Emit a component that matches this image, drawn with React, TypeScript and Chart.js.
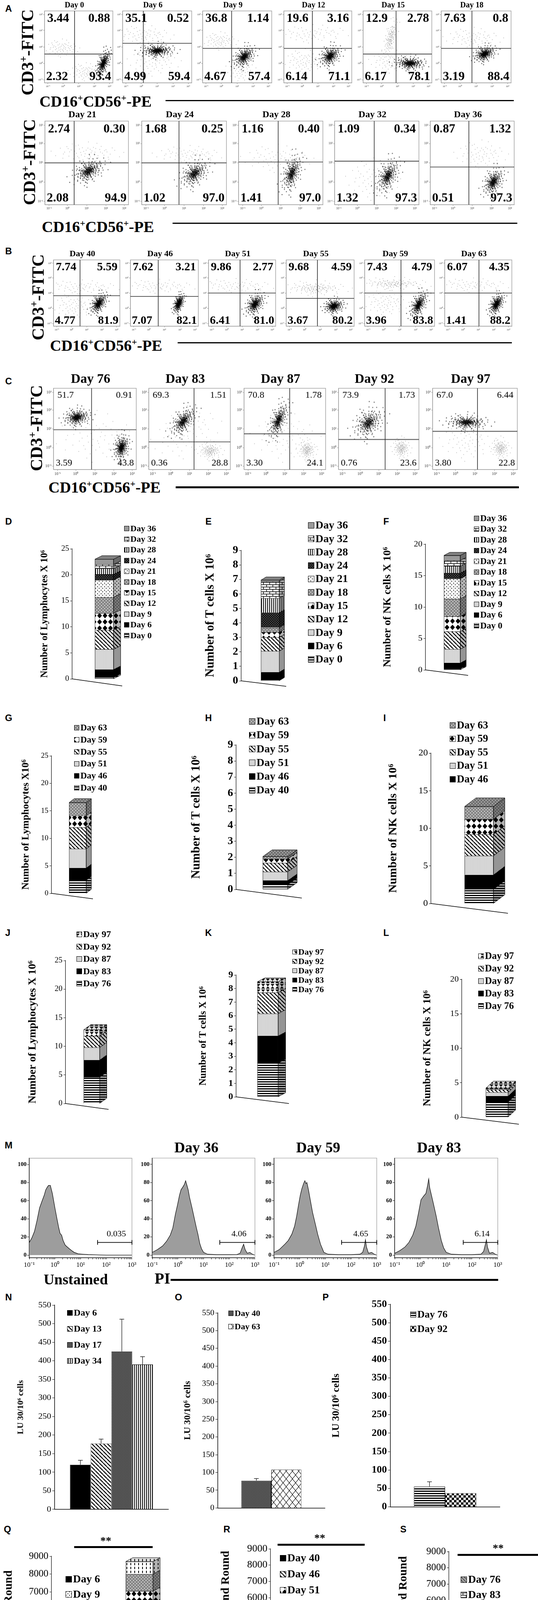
import { useEffect, useRef } from 'react';
import { Chart, registerables } from 'chart.js';

Chart.register(...registerables);

const SERIF = "'Liberation Serif', 'Times New Roman', serif";
const SANS = "'Liberation Sans', Arial, sans-serif";
Chart.defaults.font.family = SERIF;

// ---------- flow cytometry (A, B, C) ----------
const daysA1 = ['Day 0', 'Day 6', 'Day 9', 'Day 12', 'Day 15', 'Day 18'];
const quadsA1 = [
  ['3.44', '0.88', '2.32', '93.4'],
  ['35.1', '0.52', '4.99', '59.4'],
  ['36.8', '1.14', '4.67', '57.4'],
  ['19.6', '3.16', '6.14', '71.1'],
  ['12.9', '2.78', '6.17', '78.1'],
  ['7.63', '0.8', '3.19', '88.4'],
];
const gatesA1 = [[0.44, 0.4], [0.3, 0.55], [0.42, 0.48], [0.42, 0.48], [0.48, 0.4], [0.44, 0.48]];
// clusters: [cx, cy, sx, sy, tilt, density]
const clustersA1 = [
  [[0.86, 0.27, 0.07, 0.1, 0.8, 3], [0.25, 0.48, 0.12, 0.06, 0, 1], [0.6, 0.15, 0.12, 0.06, 0, 1]],
  [[0.5, 0.445, 0.15, 0.06, 0.1, 3], [0.45, 0.3, 0.18, 0.1, 0, 1], [0.3, 0.66, 0.2, 0.07, 0, 1]],
  [[0.6, 0.36, 0.1, 0.09, 0.5, 3], [0.25, 0.58, 0.12, 0.06, 0, 1], [0.55, 0.2, 0.1, 0.1, 0, 1]],
  [[0.68, 0.37, 0.1, 0.09, 0.4, 3], [0.4, 0.68, 0.28, 0.06, 0.2, 1], [0.3, 0.3, 0.15, 0.08, 0, 1]],
  [[0.68, 0.27, 0.14, 0.06, 0, 3], [0.4, 0.62, 0.06, 0.12, 0.8, 2], [0.4, 0.3, 0.15, 0.08, 0, 1]],
  [[0.62, 0.4, 0.1, 0.07, 0.4, 3], [0.45, 0.62, 0.2, 0.07, 0, 1]],
];

const daysA2 = ['Day 21', 'Day 24', 'Day 28', 'Day 32', 'Day 36'];
const quadsA2 = [
  ['2.74', '0.30', '2.08', '94.9'],
  ['1.68', '0.25', '1.02', '97.0'],
  ['1.16', '0.40', '1.41', '97.0'],
  ['1.09', '0.34', '1.32', '97.3'],
  ['0.87', '1.32', '0.51', '97.3'],
];
const gatesA2 = [[0.35, 0.5], [0.44, 0.5], [0.47, 0.51], [0.47, 0.52], [0.46, 0.45]];
const clustersA2 = [
  [[0.52, 0.4, 0.12, 0.09, 0.5, 3], [0.5, 0.62, 0.2, 0.06, 0, 1]],
  [[0.62, 0.37, 0.11, 0.1, 0.5, 3], [0.55, 0.6, 0.2, 0.05, 0, 1]],
  [[0.63, 0.37, 0.08, 0.13, 0.6, 3], [0.45, 0.55, 0.2, 0.08, 0, 1]],
  [[0.63, 0.34, 0.09, 0.12, 0.6, 3], [0.45, 0.3, 0.15, 0.12, 0, 1]],
  [[0.75, 0.27, 0.08, 0.1, 0.5, 3], [0.6, 0.6, 0.15, 0.08, 0, 1]],
];

const daysB = ['Day 40', 'Day 46', 'Day 51', 'Day 55', 'Day 59', 'Day 63'];
const quadsB = [
  ['7.74', '5.59', '4.77', '81.9'],
  ['7.62', '3.21', '7.07', '82.1'],
  ['9.86', '2.77', '6.41', '81.0'],
  ['9.68', '4.59', '3.67', '80.2'],
  ['7.43', '4.79', '3.96', '83.8'],
  ['6.07', '4.35', '1.41', '88.2'],
];
const gatesB = [[0.4, 0.46], [0.41, 0.45], [0.47, 0.5], [0.46, 0.42], [0.52, 0.5], [0.51, 0.5]];
const clustersB = [
  [[0.68, 0.34, 0.08, 0.09, 0.6, 3], [0.4, 0.59, 0.3, 0.05, 0, 1], [0.3, 0.3, 0.15, 0.1, 0, 1]],
  [[0.71, 0.34, 0.05, 0.08, 0.6, 3], [0.4, 0.6, 0.28, 0.05, 0, 1]],
  [[0.69, 0.33, 0.09, 0.1, 0.5, 3], [0.38, 0.61, 0.3, 0.05, 0, 1]],
  [[0.7, 0.3, 0.09, 0.07, 0.2, 3], [0.42, 0.57, 0.25, 0.06, 0, 2]],
  [[0.77, 0.32, 0.08, 0.11, 0.7, 3], [0.4, 0.64, 0.28, 0.05, 0, 2], [0.3, 0.35, 0.15, 0.1, 0, 1]],
  [[0.77, 0.33, 0.07, 0.09, 0.6, 3], [0.4, 0.62, 0.28, 0.05, 0, 1]],
];

const daysC = ['Day 76', 'Day 83', 'Day 87', 'Day 92', 'Day 97'];
const quadsC = [
  ['51.7', '0.91', '3.59', '43.8'],
  ['69.3', '1.51', '0.36', '28.8'],
  ['70.8', '1.78', '3.30', '24.1'],
  ['73.9', '1.73', '0.76', '23.6'],
  ['67.0', '6.44', '3.80', '22.8'],
];
const gatesC = [[0.46, 0.49], [0.555, 0.34], [0.56, 0.44], [0.58, 0.37], [0.53, 0.47]];
const clustersC = [
  [[0.28, 0.64, 0.1, 0.07, 0.2, 3], [0.82, 0.27, 0.06, 0.1, 0.3, 3], [0.5, 0.4, 0.25, 0.15, 0, 1]],
  [[0.42, 0.59, 0.1, 0.1, 0.7, 3], [0.75, 0.23, 0.08, 0.06, 0, 2], [0.45, 0.45, 0.2, 0.15, 0.4, 1]],
  [[0.42, 0.6, 0.08, 0.12, 0.8, 3], [0.77, 0.24, 0.06, 0.07, 0, 2], [0.5, 0.4, 0.2, 0.15, 0, 1]],
  [[0.37, 0.57, 0.12, 0.12, 0.4, 3], [0.78, 0.26, 0.06, 0.07, 0, 2]],
  [[0.4, 0.58, 0.15, 0.06, 0, 3], [0.8, 0.26, 0.06, 0.07, 0, 2], [0.4, 0.35, 0.15, 0.12, 0, 1]],
];

// hand-typed event offsets reused for every cloud
const cloud = [
  [0.12, -0.35], [-0.48, 0.22], [0.77, 0.41], [-0.15, -0.92], [0.33, 0.08], [-0.71, -0.44], [0.05, 0.63], [0.94, -0.18],
  [-0.29, 0.51], [0.46, -0.67], [-0.88, 0.09], [0.21, 0.27], [-0.06, -0.13], [0.58, 0.85], [-0.52, -0.79], [1.12, 0.33],
  [-1.05, 0.61], [0.38, -1.08], [-0.33, 1.02], [0.69, -0.31], [-0.62, 0.38], [0.15, -0.55], [-0.21, -0.28], [0.81, 0.12],
  [-0.93, -0.15], [0.27, 0.72], [-0.41, -0.06], [0.52, 0.44], [-0.12, 0.19], [0.03, -0.71], [1.31, -0.52], [-1.24, -0.37],
  [0.41, 1.27], [-0.57, 1.18], [0.88, -0.87], [-0.79, 0.83], [0.18, 0.02], [-0.02, 0.36], [0.63, -0.05], [-0.36, -0.47],
  [0.09, -0.21], [-0.17, 0.68], [0.45, -0.38], [-0.68, 0.14], [1.02, 0.66], [-0.95, -0.71], [0.26, -0.88], [-0.44, 0.91],
  [0.71, 0.29], [-0.26, -1.15], [1.48, 0.05], [-1.42, 0.22], [0.07, 1.45], [-0.09, -1.38], [0.55, 0.11], [-0.5, -0.22],
  [0.31, -0.16], [-0.24, 0.05], [0.14, 0.47], [-0.08, -0.46], [0.86, -0.58], [-0.74, 0.56], [0.36, 0.58], [-0.31, -0.66],
];
const powLabels = ['10⁻¹', '10⁰', '10¹', '10²', '10³'];

// ---------- cell expansion (D to L) ----------
const daysFirst = ['Day 0', 'Day 6', 'Day 9', 'Day 12', 'Day 15', 'Day 18', 'Day 21', 'Day 24', 'Day 28', 'Day 32', 'Day 36'];
const lymphFirst = [0.3, 1.5, 3.9, 3.7, 3.2, 3.1, 3.3, 1.1, 1.1, 0.8, 1.0];
const tFirst = [0.05, 0.55, 1.45, 0.95, 0.35, 0.3, 0.05, 1.0, 1.0, 1.15, 0.1];
const nkFirst = [0.2, 0.9, 2.2, 2.8, 2.4, 2.8, 3.2, 0.9, 1.1, 0.9, 0.8];
const daysSecond = ['Day 40', 'Day 46', 'Day 51', 'Day 55', 'Day 59', 'Day 63'];
const lymphSecond = [2.4, 2.2, 3.5, 3.9, 2.1, 2.4];
const tSecond = [0.3, 0.25, 0.55, 0.55, 0.25, 0.15];
const nkSecond = [1.9, 1.9, 2.55, 2.85, 2.0, 1.7];
const daysThird = ['Day 76', 'Day 83', 'Day 87', 'Day 92', 'Day 97'];
const lymphThird = [4.6, 3.0, 2.2, 2.0, 1.1];
const tThird = [2.5, 2.0, 1.65, 1.55, 0.8];
const nkThird = [2.2, 0.85, 0.55, 0.4, 0.2];

// ---------- PI histograms (M) ----------
const histUnstained = [[-1, 14], [-0.9, 19], [-0.8, 26], [-0.7, 38], [-0.6, 52], [-0.5, 60], [-0.42, 66], [-0.36, 72], [-0.3, 75], [-0.25, 77], [-0.18, 77], [-0.1, 68], [0, 52], [0.08, 40], [0.15, 30], [0.2, 24], [0.26, 22], [0.32, 16], [0.4, 11], [0.48, 9], [0.56, 7], [0.65, 5], [0.75, 3], [0.9, 1.5], [1.1, 1], [1.3, 0.6], [1.6, 0.3], [2, 0], [3, 0]];
const histDay36 = [[-1, 3], [-0.8, 6], [-0.6, 10], [-0.45, 15], [-0.3, 22], [-0.2, 30], [-0.1, 45], [-0.02, 55], [0.06, 66], [0.12, 72], [0.19, 75], [0.25, 78], [0.3, 82], [0.35, 77], [0.4, 72], [0.45, 64], [0.55, 52], [0.65, 39], [0.72, 30], [0.78, 23], [0.85, 13], [0.92, 7], [1, 3], [1.15, 1], [1.5, 0.5], [2, 0.5], [2.3, 0.6], [2.42, 2], [2.5, 8], [2.56, 12], [2.62, 6], [2.7, 2], [2.8, 3], [2.9, 1], [3, 0]];
const histDay59 = [[-1, 3], [-0.8, 6], [-0.58, 12], [-0.45, 16], [-0.31, 23], [-0.2, 32], [-0.12, 43], [-0.05, 55], [0.02, 66], [0.08, 73], [0.15, 79], [0.2, 82], [0.24, 79], [0.28, 80], [0.34, 72], [0.41, 61], [0.5, 47], [0.61, 34], [0.7, 23], [0.81, 12], [0.94, 3], [1.1, 1], [1.5, 0.5], [2, 0.5], [2.35, 1], [2.45, 3], [2.52, 10], [2.56, 17], [2.6, 9], [2.68, 2], [2.8, 3], [2.9, 1], [3, 0]];
const histDay83 = [[-1, 2], [-0.8, 5], [-0.6, 9], [-0.45, 14], [-0.3, 22], [-0.18, 32], [-0.08, 46], [0.02, 61], [0.12, 65], [0.21, 68], [0.27, 76], [0.32, 84], [0.36, 74], [0.41, 68], [0.5, 57], [0.61, 43], [0.7, 30], [0.81, 16], [0.9, 8], [1, 3], [1.2, 1], [1.6, 0.5], [2, 0.5], [2.35, 1], [2.45, 4], [2.52, 12], [2.56, 17], [2.6, 9], [2.68, 2], [2.8, 3], [2.9, 1], [3, 0]];
const histTitles = ['', 'Day 36', 'Day 59', 'Day 83'];
const histGateLabels = ['0.035', '4.06', '4.65', '6.14'];
const histGateStart = [1.66, 1.63, 1.63, 1.66];

// ---------- cytotoxicity (N, O, P) ----------
const luDaysN = ['Day 6', 'Day 13', 'Day 17', 'Day 34'];
const luN = [120, 177, 425, 390];
const luErrN = [12, 12, 87, 21];
const luDaysO = ['Day 40', 'Day 63'];
const luO = [77, 108];
const luErrO = [6, 0];
const luDaysP = ['Day 76', 'Day 92'];
const luP = [55, 37];
const luErrP = [13, 0];

// ---------- IFN-gamma (Q, R, S) ----------
const groups = ['Control', '+OC+sAJ2'];
const ifnDaysQ = ['Day 6', 'Day 9', 'Day 12', 'day 15', 'Day 18', 'Day 21'];
const ifnCtrlQ = [60, 60, 70, 70, 70, 70];
const ifnOcQ = [1650, 2150, 1900, 1350, 950, 700];
const ifnDaysR = ['Day 40', 'Day 46', 'Day 51', 'Day 55', 'Day 59'];
const ifnCtrlR = [70, 70, 70, 70, 70];
const ifnOcR = [300, 850, 700, 550, 400];
const ifnDaysS = ['Day 76', 'Day 83', 'Day 87', 'Day 92', 'Day 97'];
const ifnCtrlS = [70, 70, 70, 70, 70];
const ifnOcS = [200, 150, 200, 150, 200];

// ---------- fill patterns ----------
const patCache: any = {};
function pat(kind: string): any {
  if (patCache[kind]) return patCache[kind];
  if (kind === 'black') return (patCache[kind] = '#000');
  const c = document.createElement('canvas');
  const g = c.getContext('2d') as CanvasRenderingContext2D;
  const sz = (w: number, h: number, bg = '#fff') => {
    c.width = w; c.height = h;
    g.fillStyle = bg; g.fillRect(0, 0, w, h);
    g.fillStyle = '#000'; g.strokeStyle = '#000';
  };
  switch (kind) {
    case 'hstripe': sz(6, 6); g.fillRect(0, 0, 6, 3); break;
    case 'vstripe': sz(5, 5); g.fillRect(0, 0, 2, 5); break;
    case 'finedots': sz(3, 3); g.fillStyle = '#444'; g.fillRect(0, 0, 1, 1); g.fillRect(1, 2, 1, 1); break;
    case 'diag':
      sz(10, 10); g.lineWidth = 2.4; g.beginPath();
      for (const o of [-10, 0, 10]) { g.moveTo(o, 0); g.lineTo(o + 10, 10); }
      g.stroke(); break;
    case 'graydiag':
      sz(8, 8, '#a5a5a5'); g.strokeStyle = '#333'; g.lineWidth = 1.5; g.beginPath();
      for (const o of [-8, 0, 8]) { g.moveTo(o, 0); g.lineTo(o + 8, 8); }
      g.stroke(); break;
    case 'diamond':
      sz(14, 16); g.beginPath(); g.moveTo(7, 1); g.lineTo(13, 8); g.lineTo(7, 15); g.lineTo(1, 8); g.closePath(); g.fill(); break;
    case 'hourglass':
      sz(12, 14); g.beginPath(); g.moveTo(1, 1); g.lineTo(11, 1); g.lineTo(6, 7); g.closePath(); g.fill();
      g.beginPath(); g.moveTo(6, 7); g.lineTo(11, 13); g.lineTo(1, 13); g.closePath(); g.fill(); break;
    case 'graydots': sz(8, 8, '#8a8a8a'); g.fillStyle = '#fff'; g.fillRect(1, 1, 2, 2); g.fillRect(5, 5, 2, 2); break;
    case 'whitedots': sz(9, 9); g.fillRect(2, 2, 2, 2); g.fillRect(6, 6, 2, 2); break;
    case 'darkcheck': sz(6, 6, '#1c1c1c'); g.fillStyle = '#fff'; g.fillRect(1, 1, 1, 1); g.fillRect(4, 4, 1, 1); break;
    case 'brick':
      sz(16, 12); g.fillRect(0, 0, 16, 1.5); g.fillRect(0, 6, 16, 1.5); g.fillRect(0, 0, 1.5, 6); g.fillRect(8, 6, 1.5, 6); break;
    case 'graymesh': sz(4, 4, '#8f8f8f'); g.fillStyle = '#e0e0e0'; g.fillRect(0, 0, 1, 1); g.fillRect(2, 2, 1, 1); break;
    case 'densedots': sz(4, 4, '#3a3a3a'); g.fillStyle = '#fff'; g.fillRect(1, 1, 1, 1); g.fillRect(3, 3, 1, 1); break;
    case 'lattice':
      sz(16, 20); g.lineWidth = 1.2; g.beginPath(); g.moveTo(0, 10); g.lineTo(8, 0); g.lineTo(16, 10); g.lineTo(8, 20); g.closePath(); g.stroke(); break;
    case 'checker': sz(12, 12); g.fillRect(0, 0, 6, 6); g.fillRect(6, 6, 6, 6); break;
    case 'zigzag': sz(12, 10); g.lineWidth = 1.6; g.beginPath(); g.moveTo(0, 3); g.lineTo(6, 7); g.lineTo(12, 3); g.stroke(); break;
    case 'vmarks': sz(10, 10); g.fillRect(4, 1, 2, 6); break;
    default: sz(4, 4, '#999');
  }
  patCache[kind] = g.createPattern(c, 'repeat');
  return patCache[kind];
}

const firstPats = ['hstripe', 'black', 'finedots', 'diag', 'diamond', 'graydots', 'whitedots', 'darkcheck', 'vstripe', 'brick', 'graymesh'];
const secondPats = ['hstripe', 'black', 'finedots', 'diag', 'diamond', 'graydots'];
const thirdPats = ['hstripe', 'black', 'finedots', 'diag', 'hourglass'];

// ---------- plugins ----------
function face(ctx: any, pts: number[][], fill: any, shade: number) {
  ctx.save();
  ctx.beginPath();
  pts.forEach(([x, y], k) => (k ? ctx.lineTo(x, y) : ctx.moveTo(x, y)));
  ctx.closePath();
  ctx.fillStyle = fill; ctx.fill();
  ctx.fillStyle = `rgba(0,0,0,${shade})`; ctx.fill();
  ctx.strokeStyle = '#000'; ctx.lineWidth = 1; ctx.stroke();
  ctx.restore();
}

const quadPlugin = {
  id: 'quad',
  afterDatasetsDraw(chart: any, _a: any, o: any) {
    if (!o || !o.quad) return;
    const { ctx, chartArea: a } = chart;
    const gx = chart.scales.x.getPixelForValue(o.gate[0]);
    const gy = chart.scales.y.getPixelForValue(o.gate[1]);
    ctx.save();
    ctx.strokeStyle = '#a3a3a3'; ctx.lineWidth = 1.5;
    ctx.strokeRect(a.left, a.top, a.width, a.height);
    ctx.strokeStyle = '#2b2b2b'; ctx.lineWidth = 1.6;
    ctx.beginPath();
    ctx.moveTo(gx, a.top); ctx.lineTo(gx, a.bottom);
    ctx.moveTo(a.left, gy); ctx.lineTo(a.right, gy);
    ctx.stroke();
    ctx.fillStyle = '#000';
    ctx.font = `${o.bold ? 'bold ' : ''}${o.fs}px ${SERIF}`;
    const m = o.inset;
    ctx.textBaseline = 'top';
    ctx.textAlign = 'left'; ctx.fillText(o.quad[0], a.left + m, a.top + m * 0.6);
    ctx.textAlign = 'right'; ctx.fillText(o.quad[1], a.right - m, a.top + m * 0.6);
    ctx.textBaseline = 'alphabetic';
    ctx.textAlign = 'left'; ctx.fillText(o.quad[2], a.left + m * 0.6, a.bottom - m);
    ctx.textAlign = 'right'; ctx.fillText(o.quad[3], a.right - m * 0.6, a.bottom - m);
    ctx.restore();
  },
};

const box3dPlugin = {
  id: 'box3d',
  afterDatasetsDraw(chart: any, _a: any, o: any) {
    if (!o || !o.dx) return;
    const { ctx } = chart;
    const tops: any[] = [];
    chart.data.datasets.forEach((ds: any, i: number) => {
      const meta = chart.getDatasetMeta(i);
      if (meta.hidden) return;
      meta.data.forEach((el: any, j: number) => {
        if (!ds.data[j]) return;
        const p = el.getProps(['x', 'y', 'base', 'width'], true);
        const l = p.x - p.width / 2, r = p.x + p.width / 2;
        const t = Math.min(p.y, p.base), b = Math.max(p.y, p.base);
        face(ctx, [[r, t], [r + o.dx, t - o.dy], [r + o.dx, b - o.dy], [r, b]], ds.backgroundColor, 0.3);
        if (!tops[j] || t < tops[j].t) tops[j] = { l, r, t, bg: ds.backgroundColor };
      });
    });
    tops.forEach((e) => e && face(ctx, [[e.l, e.t], [e.l + o.dx, e.t - o.dy], [e.r + o.dx, e.t - o.dy], [e.r, e.t]], e.bg, 0.15));
  },
};

const floorPlugin = {
  id: 'floor',
  beforeDatasetsDraw(chart: any, _a: any, o: any) {
    if (!o || !o.dx) return;
    const { ctx, chartArea: a } = chart;
    ctx.save();
    ctx.strokeStyle = '#000'; ctx.lineWidth = 1.6;
    ctx.beginPath(); ctx.moveTo(a.left, a.bottom); ctx.lineTo(a.left + o.dx, a.bottom + o.dy); ctx.stroke();
    ctx.restore();
  },
};

const keysPlugin = {
  id: 'keys',
  afterDraw(chart: any, _a: any, o: any) {
    if (!o || !o.items) return;
    const { ctx } = chart;
    ctx.save();
    ctx.font = `bold ${o.fs}px ${SERIF}`;
    ctx.textBaseline = 'middle'; ctx.textAlign = 'left';
    o.items.forEach((di: number, k: number) => {
      const ds = chart.data.datasets[di];
      const cy = o.y + k * o.dy;
      ctx.fillStyle = ds.backgroundColor;
      ctx.fillRect(o.x, cy - o.box / 2, o.box, o.box);
      ctx.strokeStyle = '#000'; ctx.lineWidth = 1;
      ctx.strokeRect(o.x + 0.5, cy - o.box / 2 + 0.5, o.box - 1, o.box - 1);
      ctx.fillStyle = '#000';
      ctx.fillText(ds.label, o.x + o.box + 3, cy + 1);
    });
    ctx.restore();
  },
};

const errPlugin = {
  id: 'errbar',
  afterDatasetsDraw(chart: any) {
    const { ctx } = chart;
    const ys = chart.scales.y;
    chart.data.datasets.forEach((ds: any, i: number) => {
      if (!ds.err) return;
      chart.getDatasetMeta(i).data.forEach((el: any, j: number) => {
        const e = ds.err[j];
        if (!e) return;
        const p = el.getProps(['x', 'y'], true);
        const ty = ys.getPixelForValue(ds.data[j] + e);
        ctx.save();
        ctx.strokeStyle = '#000'; ctx.lineWidth = 1.2;
        ctx.beginPath();
        ctx.moveTo(p.x, p.y); ctx.lineTo(p.x, ty);
        ctx.moveTo(p.x - 6, ty); ctx.lineTo(p.x + 6, ty);
        ctx.stroke();
        ctx.restore();
      });
    });
  },
};

const gatePlugin = {
  id: 'gate',
  afterDraw(chart: any, _a: any, o: any) {
    if (!o || o.x0 === undefined) return;
    const { ctx, chartArea: a } = chart;
    const xs = chart.scales.x, ys = chart.scales.y;
    const x0 = xs.getPixelForValue(o.x0), x1 = xs.getPixelForValue(o.x1), y = ys.getPixelForValue(o.y);
    ctx.save();
    ctx.strokeStyle = '#a3a3a3'; ctx.lineWidth = 1.4;
    ctx.beginPath(); ctx.moveTo(a.left, a.top); ctx.lineTo(a.right, a.top); ctx.lineTo(a.right, a.bottom); ctx.stroke();
    ctx.strokeStyle = '#000'; ctx.lineWidth = 1.8;
    ctx.beginPath();
    ctx.moveTo(x0, y); ctx.lineTo(x1, y);
    ctx.moveTo(x0, y - 6); ctx.lineTo(x0, y + 6);
    ctx.moveTo(x1, y - 6); ctx.lineTo(x1, y + 6);
    ctx.stroke();
    ctx.fillStyle = '#000'; ctx.font = `22px ${SERIF}`;
    ctx.textAlign = 'center'; ctx.textBaseline = 'alphabetic';
    ctx.fillText(o.label, (x0 + x1) / 2 + 4, y - 16);
    ctx.restore();
  },
};

Chart.register(quadPlugin, box3dPlugin, floorPlugin, keysPlugin, errPlugin, gatePlugin);

// ---------- generic canvas ----------
function Plot({ x, y, w, h, make }: { x: number; y: number; w: number; h: number; make: () => any }) {
  const ref = useRef<HTMLCanvasElement>(null);
  useEffect(() => {
    if (!ref.current) return;
    const chart = new Chart(ref.current, make());
    return () => chart.destroy();
  }, []);
  return (
    <canvas ref={ref} width={w} height={h}
      style={{ position: 'absolute', left: x, top: y, width: w, height: h }} />
  );
}

function T({ x, y, fs, children, bold = true, family = SERIF, left = false, rot = false, italic = false }: any) {
  return (
    <div style={{
      position: 'absolute', left: x, top: y,
      transform: `translate(${left ? '0' : '-50%'}, -50%)${rot ? ' rotate(-90deg)' : ''}`,
      fontFamily: family, fontSize: fs, fontWeight: bold ? 'bold' : 'normal', fontStyle: italic ? 'italic' : 'normal',
      whiteSpace: 'nowrap', lineHeight: 1, color: '#000',
    }}>{children}</div>
  );
}

function Rule({ x0, x1, y, t = 4 }: any) {
  return <div style={{ position: 'absolute', left: x0, top: y - t / 2, width: x1 - x0, height: t, background: '#000' }} />;
}

// ---------- flow rows ----------
const SPREAD = 1.5;
function cloudPoints(clusters: number[][], dense: boolean) {
  const out: any[] = [];
  for (const [cx, cy, sx, sy, tilt, d] of clusters) {
    if ((d >= 3) !== dense) continue;
    const layers = d >= 3 ? [1, 0.75, 0.55, 0.38, 0.22] : [1, 0.55].slice(0, d);
    for (const k of layers) {
      for (const [dx, dy] of cloud) {
        const px = cx + SPREAD * k * sx * dx;
        const py = cy + SPREAD * k * sy * (dy + tilt * dx);
        if (px > 0.01 && px < 0.99 && py > 0.01 && py < 0.99) out.push({ x: px, y: py });
      }
    }
  }
  return out;
}

const flowTickX = [0.05, 0.27, 0.5, 0.73, 0.95];
const flowTickY = [0.04, 0.27, 0.5, 0.73, 0.95];

function flowConfig(title: string, quad: string[], gate: number[], clusters: number[][], st: any) {
  const axis = (vals: number[], isX: boolean) => ({
    type: 'linear', min: 0, max: 1,
    afterFit: (sc: any) => { if (isX) sc.height = 22; else sc.width = 22; },
    afterBuildTicks: (sc: any) => { sc.ticks = vals.map((v) => ({ value: v })); },
    ticks: { callback: (_v: any, i: number) => powLabels[i], font: { family: SERIF, size: st.tickFs }, color: '#333', padding: 2, maxRotation: 0, autoSkip: false },
    grid: { drawOnChartArea: false, tickLength: 3, color: '#888' },
    border: { color: '#999' },
  });
  return {
    type: 'scatter',
    data: {
      datasets: [
        { data: cloudPoints(clusters, false), pointRadius: 1, backgroundColor: 'rgba(0,0,0,0.3)', borderWidth: 0 },
        { data: cloudPoints(clusters, true), pointRadius: 1.4, backgroundColor: 'rgba(0,0,0,0.62)', borderWidth: 0 },
      ],
    },
    options: {
      responsive: false, animation: false, events: [],
      layout: { padding: { left: 0, right: 6, top: 0, bottom: 0 } },
      scales: { x: axis(flowTickX, true), y: axis(flowTickY, false) },
      plugins: {
        legend: { display: false }, tooltip: { enabled: false },
        title: { display: true, text: title, color: '#000', font: { family: SERIF, size: st.titleFs, weight: 'bold' }, padding: { top: 0, bottom: 2 } },
        quad: { quad, gate, fs: st.numFs, bold: st.numBold, inset: st.inset },
      },
    },
  };
}

function flowRow(key: string, boxes: number[][], top: number, bottom: number, days: string[], quads: string[][], gates: number[][], clusters: any[], st: any) {
  return boxes.map(([l, r], i) => {
    const th = st.titleFs * 1.2 + 2;
    const y = top - th;
    return (
      <Plot key={key + i} x={l - 22} y={y} w={r - l + 28} h={bottom - y + 22}
        make={() => flowConfig(days[i], quads[i], gates[i], clusters[i], st)} />
    );
  });
}

const plain = (v: any) => String(v);

// ---------- stacked 3D column (D to L) ----------
function stackChart(key: string, s: any, days: string[], vals: number[], pats: string[], order: number[]) {
  const left = Math.max(0, Math.round(s.titleX - 0.6 * s.titleFs - 6));
  const padTitle = s.titleX - left - 2 - 0.6 * s.titleFs;
  const areaRight = 2 * s.barC - s.axisX;
  const make = () => ({
    type: 'bar',
    data: {
      labels: [''],
      datasets: days.map((d, i) => ({
        label: d, data: [vals[i]], backgroundColor: pat(pats[i]), borderColor: '#000', borderWidth: 1, barThickness: s.bar,
      })),
    },
    options: {
      responsive: false, animation: false, events: [],
      layout: { padding: { left: 2, top: s.yTop - s.top, bottom: s.bottom - s.yBot, right: s.right - areaRight } },
      scales: {
        x: { display: false, stacked: true },
        y: {
          stacked: true, min: 0, max: s.max,
          afterFit: (sc: any) => { sc.width = s.axisX - left - 2; },
          ticks: { stepSize: s.step, callback: plain, color: '#000', padding: 3, font: { family: SERIF, size: s.tickFs, weight: s.tickBold ? 'bold' : 'normal' } },
          grid: { drawOnChartArea: false, tickLength: 5, color: '#000' },
          border: { color: '#000', width: 1.2 },
          title: { display: true, text: s.title, color: '#000', font: { family: SERIF, size: s.titleFs, weight: 'bold' }, padding: { top: padTitle, bottom: 0 } },
        },
      },
      plugins: {
        legend: { display: false }, tooltip: { enabled: false },
        box3d: { dx: s.depth[0], dy: s.depth[1] },
        floor: { dx: s.floor[0], dy: s.floor[1] },
        keys: { items: order, x: s.legend[0] - left, y: s.legend[1] - s.top, dy: s.legend[2], fs: s.legend[3], box: s.legend[4] },
      },
    },
  });
  return <Plot key={key} x={left} y={s.top} w={s.right - left} h={s.bottom - s.top} make={make} />;
}

const lymphT = 'Number of Lymphocytes X 10⁶';
const tT = 'Number of T cells X 10⁶';
const nkT = 'Number of NK cells X 10⁶';
const specD = { axisX: 185, yTop: 1405, yBot: 1738, max: 25, step: 5, barC: 267, bar: 48, depth: [18, 9], floor: [128, 18], titleX: 115, titleFs: 25, tickFs: 20, tickBold: false, legend: [318, 1353, 27.4, 22, 13], top: 1328, bottom: 1770, right: 420, title: lymphT };
const specE = { axisX: 618, yTop: 1409, yBot: 1743, max: 9, step: 1, barC: 692, bar: 47, depth: [13, 8], floor: [115, 14], titleX: 539, titleFs: 31, tickFs: 28, tickBold: true, legend: [789, 1345, 34.3, 28, 16], top: 1322, bottom: 1770, right: 915, title: tT };
const specF = { axisX: 1090, yTop: 1393, yBot: 1715, max: 20, step: 5, barC: 1158, bar: 42, depth: [15, 8], floor: [109, 14], titleX: 993, titleFs: 28, tickFs: 22, tickBold: false, legend: [1214, 1327, 27.5, 23, 13], top: 1310, bottom: 1745, right: 1328, title: nkT };
const specG = { axisX: 132, yTop: 1935, yBot: 2287, max: 25, step: 5, barC: 199, bar: 44, depth: [13, 10], floor: [106, 14], titleX: 66, titleFs: 26, tickFs: 19, tickBold: false, legend: [190, 1863, 30.8, 23, 13], top: 1845, bottom: 2312, right: 300, title: 'Number of Lymphocytes X10⁶' };
const specH = { axisX: 605, yTop: 1907, yBot: 2277, max: 9, step: 1, barC: 705, bar: 64, depth: [24, 17], floor: [168, 22], titleX: 503, titleFs: 31, tickFs: 28, tickBold: true, legend: [638, 1847, 35.2, 28, 16], top: 1825, bottom: 2310, right: 820, title: tT };
const specI = { axisX: 1104, yTop: 1928, yBot: 2313, max: 20, step: 5, barC: 1227, bar: 74, depth: [29, 22], floor: [197, 25], titleX: 1007, titleFs: 30, tickFs: 24, tickBold: false, legend: [1152, 1857, 34.5, 27, 15], top: 1835, bottom: 2350, right: 1370, title: nkT };
const specJ = { axisX: 168, yTop: 2459, yBot: 2825, max: 25, step: 5, barC: 235, bar: 41, depth: [18, 13], floor: [110, 15], titleX: 84, titleFs: 28, tickFs: 20, tickBold: false, legend: [196, 2392, 31.5, 24, 14], top: 2375, bottom: 2850, right: 312, title: lymphT };
const specK = { axisX: 605, yTop: 2496, yBot: 2808, max: 9, step: 1, barC: 686, bar: 53, depth: [19, 10], floor: [135, 17], titleX: 521, titleFs: 25, tickFs: 24, tickBold: true, legend: [749, 2437, 24, 22, 12], top: 2420, bottom: 2840, right: 850, title: tT };
const specL = { axisX: 1183, yTop: 2507, yBot: 2860, max: 20, step: 5, barC: 1273, bar: 57, depth: [19, 18], floor: [146, 18], titleX: 1095, titleFs: 27, tickFs: 22, tickBold: false, legend: [1225, 2448, 31.8, 25, 14], top: 2425, bottom: 2885, right: 1372, title: nkT };

// ---------- histograms (M) ----------
const histBoxes = [[75, 343], [390, 658], [702, 970], [1011, 1280]];
const histData = [histUnstained, histDay36, histDay59, histDay83];

function histChart(i: number) {
  const [l, r] = histBoxes[i];
  const top = 2917, boxTop = 2965, boxBot = 3220, bottom = 3268;
  const minor: number[] = [];
  for (let n = -1; n < 3; n++) for (let k = 2; k < 10; k++) minor.push(n + Math.log10(k));
  const make = () => ({
    type: 'line',
    data: {
      datasets: [{
        data: histData[i].map(([x, y]) => ({ x, y })),
        borderColor: '#000', borderWidth: 1.2, backgroundColor: '#9d9d9d', fill: 'origin', pointRadius: 0, tension: 0,
      }],
    },
    options: {
      responsive: false, animation: false, events: [],
      layout: { padding: { left: 0, right: 10, top: histTitles[i] ? 0 : boxTop - top, bottom: 0 } },
      scales: {
        x: {
          type: 'linear', min: -1, max: 3,
          afterFit: (sc: any) => { sc.height = bottom - boxBot; },
          afterBuildTicks: (sc: any) => { sc.ticks = [-1, 0, 1, 2, 3, ...minor].sort((a, b) => a - b).map((v) => ({ value: v })); },
          ticks: { callback: (v: number) => (Number.isInteger(v) ? powLabels[v + 1] : ''), font: { family: SERIF, size: 17 }, color: '#000', maxRotation: 0, autoSkip: false, padding: 4 },
          grid: { drawOnChartArea: false, tickLength: 4, color: '#000' },
          border: { color: '#000', width: 1.5 },
        },
        y: {
          min: -3, max: 107,
          afterFit: (sc: any) => { sc.width = 42; },
          afterBuildTicks: (sc: any) => { sc.ticks = [0, 20, 40, 60, 80, 100].map((v) => ({ value: v })); },
          ticks: { callback: plain, font: { family: SERIF, size: 15, weight: 'bold' }, color: '#000', padding: 2 },
          grid: { drawOnChartArea: false, tickLength: 5, color: '#000' },
          border: { color: '#000', width: 1.5 },
        },
      },
      plugins: {
        legend: { display: false }, tooltip: { enabled: false },
        title: { display: !!histTitles[i], text: histTitles[i], color: '#000', font: { family: SERIF, size: 38, weight: 'bold' }, padding: { top: 0, bottom: 2 } },
        gate: { x0: histGateStart[i], x1: 3, y: 14, label: histGateLabels[i] },
      },
    },
  });
  return <Plot key={'m' + i} x={l - 42} y={top} w={r - l + 52} h={bottom - top} make={make} />;
}

// ---------- cytotoxicity (N, O, P) ----------
function luChart(key: string, s: any, days: string[], vals: number[], errs: number[], pats: string[]) {
  const left = Math.round(s.titleX - 0.6 * s.titleFs - 6);
  const padTitle = s.titleX - left - 2 - 0.6 * s.titleFs;
  const make = () => ({
    type: 'bar',
    data: {
      labels: [''],
      datasets: days.map((d, i) => ({
        label: d, data: [vals[i]], err: [errs[i]], backgroundColor: pat(pats[i]), borderColor: '#000', borderWidth: 1,
        barPercentage: 1, categoryPercentage: s.cp,
      })),
    },
    options: {
      responsive: false, animation: false, events: [],
      layout: { padding: { left: 2, top: s.yTop - s.top, bottom: 2, right: s.right - s.areaRight } },
      scales: {
        x: {
          afterFit: (sc: any) => { sc.height = s.bottom - s.yBot - 2; },
          ticks: { display: false }, grid: { display: false }, border: { color: '#000', width: 1.5 },
        },
        y: {
          min: 0, max: 550,
          afterFit: (sc: any) => { sc.width = s.axisX - left - 2; },
          ticks: { stepSize: 50, callback: plain, color: '#000', padding: 3, font: { family: SERIF, size: s.tickFs, weight: s.bold ? 'bold' : 'normal' } },
          grid: { drawOnChartArea: false, tickLength: 6, color: '#000' },
          border: { color: '#000', width: 1.5 },
          title: { display: true, text: 'LU 30/10⁶ cells', color: '#000', font: { family: SERIF, size: s.titleFs, weight: 'bold' }, padding: { top: padTitle, bottom: 0 } },
        },
      },
      plugins: {
        legend: { display: false }, tooltip: { enabled: false },
        keys: { items: days.map((_d, i) => i), x: s.legend[0] - left, y: s.legend[1] - s.top, dy: s.legend[2], fs: s.legend[3], box: s.legend[4] },
      },
    },
  });
  return <Plot key={key} x={left} y={s.top} w={s.right - left} h={s.bottom - s.top} make={make} />;
}

const specN = { axisX: 140, areaRight: 431, yTop: 3341, yBot: 3868, titleX: 53, titleFs: 22, tickFs: 22, bold: false, cp: 0.73, legend: [172, 3361, 41, 24, 14], top: 3315, bottom: 3880, right: 440 };
const specO = { axisX: 558, areaRight: 832, yTop: 3361, yBot: 3864, titleX: 481, titleFs: 24, tickFs: 21, bold: false, cp: 0.56, legend: [585, 3362, 34, 22, 13], top: 3336, bottom: 3876, right: 840 };
const specP = { axisX: 1000, areaRight: 1280, yTop: 3339, yBot: 3864, titleX: 861, titleFs: 26, tickFs: 26, bold: true, cp: 0.57, legend: [1051, 3365, 37, 26, 15], top: 3312, bottom: 3876, right: 1290 };

// ---------- IFN-gamma (Q, R, S) ----------
function ifnChart(key: string, s: any, days: string[], ctrl: number[], oc: number[], pats: string[]) {
  const left = Math.max(0, Math.round(s.titleX - 0.6 * s.titleFs - 6));
  const padTitle = s.titleX - left - 2 - 0.6 * s.titleFs;
  const areaRight = s.axisX + 2 * s.w;
  const make = () => ({
    type: 'bar',
    data: {
      labels: groups,
      datasets: days.map((d, i) => ({
        label: d, data: [ctrl[i], oc[i]], backgroundColor: pat(pats[i]), borderColor: '#000', borderWidth: 1, barThickness: s.bar,
      })),
    },
    options: {
      responsive: false, animation: false, events: [],
      layout: { padding: { left: 2, top: s.yTop - s.top, bottom: 2, right: s.right - areaRight } },
      scales: {
        x: {
          stacked: true,
          afterFit: (sc: any) => { sc.height = s.bottom - s.yBot - 2; },
          grid: { display: false }, border: { display: false },
          ticks: { color: '#000', minRotation: 60, maxRotation: 60, autoSkip: false, padding: s.labelPad, font: { family: SERIF, size: 28, weight: 'bold', style: 'italic' } },
        },
        y: {
          stacked: true, min: 0, max: 9000,
          afterFit: (sc: any) => { sc.width = s.axisX - left - 2; },
          ticks: { stepSize: 1000, callback: plain, color: '#000', padding: 3, font: { family: SERIF, size: s.tickFs } },
          grid: { drawOnChartArea: false, tickLength: 5, color: '#000' },
          border: { color: '#000', width: 1.2 },
          title: { display: true, text: s.title, color: '#000', font: { family: SERIF, size: s.titleFs, weight: 'bold' }, padding: { top: padTitle, bottom: 0 } },
        },
      },
      plugins: {
        legend: { display: false }, tooltip: { enabled: false },
        box3d: { dx: s.depth[0], dy: s.depth[1] },
        floor: { dx: s.floor[0], dy: s.floor[1] },
        keys: { items: days.map((_d, i) => i), x: s.legend[0] - left, y: s.legend[1] - s.top, dy: s.legend[2], fs: s.legend[3], box: s.legend[4] },
      },
    },
  });
  return <Plot key={key} x={left} y={s.top} w={s.right - left} h={s.bottom - s.top} make={make} />;
}

const specQ = { axisX: 132, w: 150, yTop: 3984, yBot: 4396, titleX: 22, titleFs: 30, tickFs: 25, bar: 70, depth: [18, 10], floor: [281, 44], legend: [168, 4043, 38.6, 28, 16], top: 3960, bottom: 4574, right: 470, labelPad: 40, title: 'IFN-γ (pg/ml) First Round' };
const specR = { axisX: 693, w: 135, yTop: 3965, yBot: 4340, titleX: 578, titleFs: 30, tickFs: 26, bar: 66, depth: [19, 15], floor: [247, 36], legend: [717, 3989, 41, 28, 16], top: 3940, bottom: 4574, right: 985, labelPad: 40, title: 'IFN-γ (pg/ml) second Round' };
const specS = { axisX: 1150, w: 110, yTop: 3972, yBot: 4349, titleX: 1033, titleFs: 30, tickFs: 25, bar: 54, depth: [18, 14], floor: [219, 34], legend: [1180, 4044, 39, 28, 16], top: 3945, bottom: 4574, right: 1378, labelPad: 40, title: 'IFN-γ (pg/ml) Third Round' };

// ---------- layout ----------
const boxesA1 = [[114, 289], [314, 491], [519, 696], [727, 901], [930, 1106], [1130, 1309]];
const boxesA2 = [[115, 329], [363, 580], [611, 827], [857, 1073], [1102, 1317]];
const boxesB = [[137, 307], [334, 508], [534, 706], [733, 907], [934, 1113], [1139, 1311]];
const boxesC = [[137, 349], [381, 590], [625, 834], [867, 1073], [1108, 1325]];

const letters: [string, number, number][] = [
  ['A', 22, 22], ['B', 22, 643], ['C', 22, 976], ['D', 22, 1335], ['E', 534, 1335], ['F', 989, 1335],
  ['G', 22, 1838], ['H', 534, 1838], ['I', 985, 1838], ['J', 20, 2388], ['K', 534, 2388], ['L', 989, 2388],
  ['M', 22, 2932], ['N', 22, 3321], ['O', 457, 3321], ['P', 834, 3321], ['Q', 19, 3915], ['R', 581, 3915], ['S', 1033, 3915],
];

const cdX = <>CD16<sup style={{ fontSize: '0.6em' }}>+</sup>CD56<sup style={{ fontSize: '0.6em' }}>+</sup>-PE</>;
const cdY = <>CD3<sup style={{ fontSize: '0.6em' }}>+</sup>-FITC</>;

export default function App() {
  const rev = (n: number) => Array.from({ length: n }, (_v, i) => n - 1 - i);
  return (
    <div style={{ position: 'absolute', left: 0, top: 0, width: 1378, height: 4576, background: '#fff', overflow: 'hidden' }}>
      {letters.map(([t, x, y]) => <T key={t} x={x} y={y} fs={24} family={SANS}>{t}</T>)}

      {flowRow('a1', boxesA1, 28, 212, daysA1, quadsA1, gatesA1, clustersA1, { titleFs: 20, numFs: 32, numBold: true, tickFs: 7, inset: 7 })}
      {flowRow('a2', boxesA2, 310, 524, daysA2, quadsA2, gatesA2, clustersA2, { titleFs: 24, numFs: 32, numBold: true, tickFs: 8, inset: 8 })}
      {flowRow('b', boxesB, 665, 835, daysB, quadsB, gatesB, clustersB, { titleFs: 22, numFs: 30, numBold: true, tickFs: 7, inset: 6 })}
      {flowRow('c', boxesC, 994, 1202, daysC, quadsC, gatesC, clustersC, { titleFs: 34, numFs: 24, numBold: false, tickFs: 10, inset: 10 })}

      <T x={70} y={134} fs={44} rot>{cdY}</T>
      <T x={75} y={415} fs={44} rot>{cdY}</T>
      <T x={97} y={761} fs={44} rot>{cdY}</T>
      <T x={93} y={1096} fs={44} rot>{cdY}</T>
      <T x={101} y={259} fs={40} left>{cdX}</T>
      <Rule x0={424} x1={1316} y={257} t={3} />
      <T x={107} y={580} fs={40} left>{cdX}</T>
      <Rule x0={442} x1={1325} y={571} t={3} />
      <T x={128} y={884} fs={40} left>{cdX}</T>
      <Rule x0={455} x1={1311} y={877} t={3} />
      <T x={124} y={1247} fs={40} left>{cdX}</T>
      <Rule x0={450} x1={1329} y={1247} t={5} />

      {stackChart('d', specD, daysFirst, lymphFirst, firstPats, rev(11))}
      {stackChart('e', specE, daysFirst, tFirst, firstPats, rev(11))}
      {stackChart('f', specF, daysFirst, nkFirst, firstPats, rev(11))}
      {stackChart('g', specG, daysSecond, lymphSecond, secondPats, rev(6))}
      {stackChart('h', specH, daysSecond, tSecond, secondPats, rev(6))}
      {stackChart('i', specI, daysSecond, nkSecond, secondPats, [5, 4, 3, 2, 1])}
      {stackChart('j', specJ, daysThird, lymphThird, thirdPats, rev(5))}
      {stackChart('k', specK, daysThird, tThird, thirdPats, rev(5))}
      {stackChart('l', specL, daysThird, nkThird, thirdPats, rev(5))}

      {[0, 1, 2, 3].map((i) => histChart(i))}
      <T x={194} y={3275} fs={38}>Unstained</T>
      <T x={396} y={3273} fs={40} left>PI</T>
      <Rule x0={437} x1={1276} y={3276} t={5} />

      {luChart('n', specN, luDaysN, luN, luErrN, ['black', 'diag', 'densedots', 'vstripe'])}
      {luChart('o', specO, luDaysO, luO, luErrO, ['densedots', 'lattice'])}
      {luChart('p', specP, luDaysP, luP, luErrP, ['hstripe', 'checker'])}

      {ifnChart('q', specQ, ifnDaysQ, ifnCtrlQ, ifnOcQ, ['black', 'whitedots', 'diag', 'diamond', 'graydots', 'vmarks'])}
      {ifnChart('r', specR, ifnDaysR, ifnCtrlR, ifnOcR, ['black', 'diag', 'diamond', 'zigzag', 'vmarks'])}
      {ifnChart('s', specS, ifnDaysS, ifnCtrlS, ifnOcS, ['graydiag', 'brick', 'darkcheck', 'lattice', 'vstripe'])}
      <Rule x0={190} x1={391} y={3960} t={5} />
      <T x={271} y={3944} fs={28}>**</T>
      <Rule x0={711} x1={934} y={3954} t={5} />
      <T x={819} y={3937} fs={28}>**</T>
      <Rule x0={1172} x1={1378} y={3980} t={5} />
      <T x={1276} y={3963} fs={28}>**</T>
    </div>
  );
}
